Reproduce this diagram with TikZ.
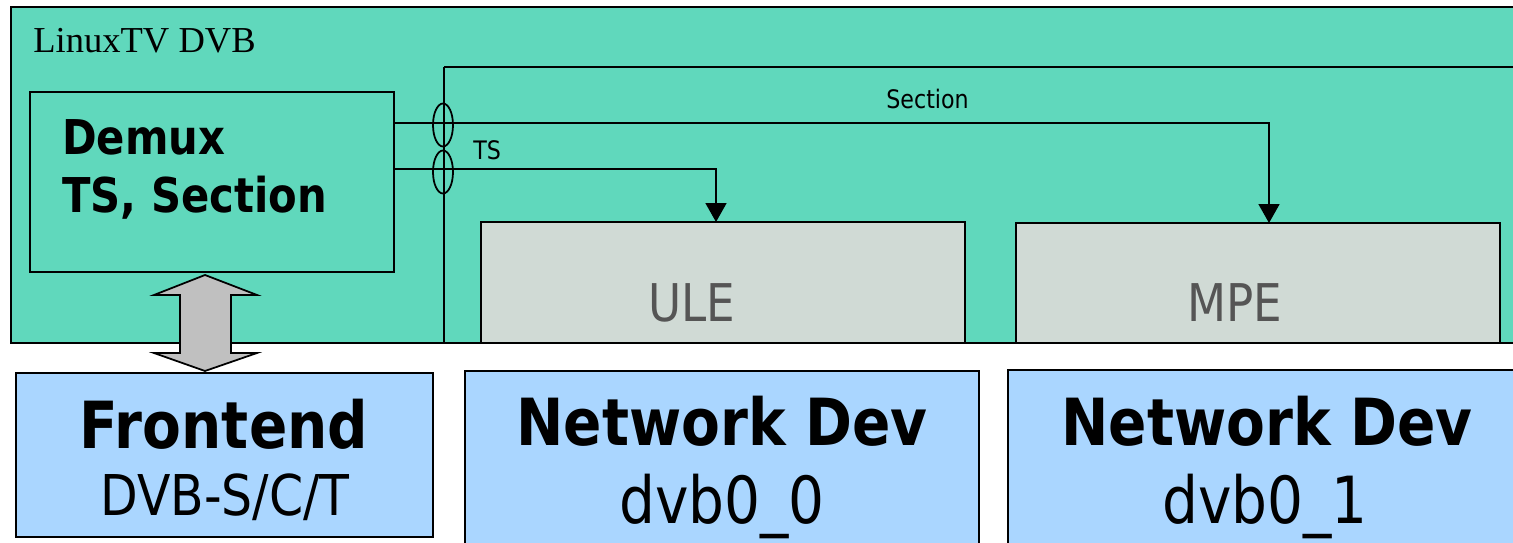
\documentclass[tikz,border=0pt]{standalone}
\usepackage{fontspec}
\setmainfont{Liberation Serif}
\newfontfamily\tah[FakeStretch=0.87]{DejaVu Sans}
\usetikzlibrary{arrows.meta,fit,shapes.geometric}
\definecolor{tealbg}{RGB}{96,216,188}
\definecolor{graybox}{RGB}{208,218,213}
\definecolor{bluebox}{RGB}{170,214,255}
\definecolor{arrgray}{RGB}{192,192,192}
\definecolor{dimtext}{RGB}{85,85,85}
\begin{document}
\begin{tikzpicture}[x=0.02cm,y=-0.02cm,
  box/.style={draw, line width=1pt, inner sep=0pt, outer sep=0pt},
  conn/.style={draw, line width=1pt},
  tip/.style={-{Triangle[width=0.42cm,length=0.38cm]}},
  bus/.style={draw, ellipse, line width=1pt, inner sep=0pt, minimum width=0.4cm, minimum height=0.86cm},
  lbl/.style={font=\tah\fontsize{14.5pt}{16pt}\selectfont, anchor=base west, inner sep=0pt},
  big/.style={font=\tah\bfseries\fontsize{37pt}{40pt}\selectfont, anchor=base, inner sep=0pt},
  sub/.style={font=\tah\fontsize{37pt}{40pt}\selectfont, anchor=base, inner sep=0pt},
  inner/.style={font=\tah\fontsize{29.6pt}{32pt}\selectfont, text=dimtext, anchor=base, inner sep=0pt}]
\useasboundingbox (0,0) rectangle (1513,543);
\clip (0,0) rectangle (1513,543);
\fill[white] (0,0) rectangle (1513,543);
% outer LinuxTV DVB box
\node (dvb) [box, fill=tealbg, line width=1.3pt, fit={(11,7)(1540,343)}] {};
\node (dvbl) [font=\fontsize{20.8pt}{24pt}\selectfont, anchor=base west, inner sep=0pt] at (33,53) {LinuxTV DVB};
% bus lines
\coordinate (bustop) at (444,67);
\draw[conn] (bustop) -- (bustop |- dvb.south);
\draw[conn] (bustop) -- (bustop -| dvb.east);
% ULE / MPE
\node (ule) [box, fill=graybox, fit={(481,222)(965,343)}] {};
\node (mpe) [box, fill=graybox, fit={(1016,223)(1500,343)}] {};
\node (ulet) [inner] at (692,322) {ULE};
\node (mpet) [inner] at (1235,322) {MPE};
% Demux
\node (demux) [box, fit={(30,92)(394,272)}] {};
\node (dm1) [font=\tah\bfseries\fontsize{27.3pt}{30pt}\selectfont, anchor=base west, inner sep=0pt] at (62,155) {Demux};
\node (dm2) [font=\tah\bfseries\fontsize{27.3pt}{30pt}\selectfont, anchor=base west, inner sep=0pt] at (62,213) {TS, Section};
% connectors
\coordinate (secturn) at (1269,123);
\coordinate (tsturn) at (716,169);
\draw[conn, tip] (demux.east |- secturn) -- (secturn) -- (secturn |- mpe.north);
\draw[conn, tip] (demux.east |- tsturn) -- (tsturn) -- (tsturn |- ule.north);
\node (e1) [bus] at (443,125) {};
\node (e2) [bus] at (443,172) {};
\node (secl) [lbl] at (886,109) {Section};
\node (tsl) [lbl] at (473,160) {TS};
% bottom boxes
\node (fe) [box, fill=bluebox, fit={(16,373)(433,537)}] {};
\node (net0) [box, fill=bluebox, fit={(465,371)(979,570)}] {};
\node (net1) [box, fill=bluebox, fit={(1008,370)(1560,570)}] {};
\node (fe1) [big] at (224,448) {Frontend};
\node (fe2) [sub, font=\tah\fontsize{32pt}{35pt}\selectfont] at (225,515) {DVB-S/C/T};
\node (n01) [big] at (722,445) {Network Dev};
\node (n02) [sub] at (722,523) {dvb0\_0};
\node (n11) [big] at (1267,445) {Network Dev};
\node (n12) [sub] at (1265,523) {dvb0\_1};
% double arrow demux <-> frontend
\draw[line width=1pt, fill=arrgray] (205,275) -- (257,295) -- (231,295) -- (231,353) -- (257,353) -- (205,371) -- (154,353) -- (180,353) -- (180,295) -- (154,295) -- cycle;
\end{tikzpicture}
\end{document}
